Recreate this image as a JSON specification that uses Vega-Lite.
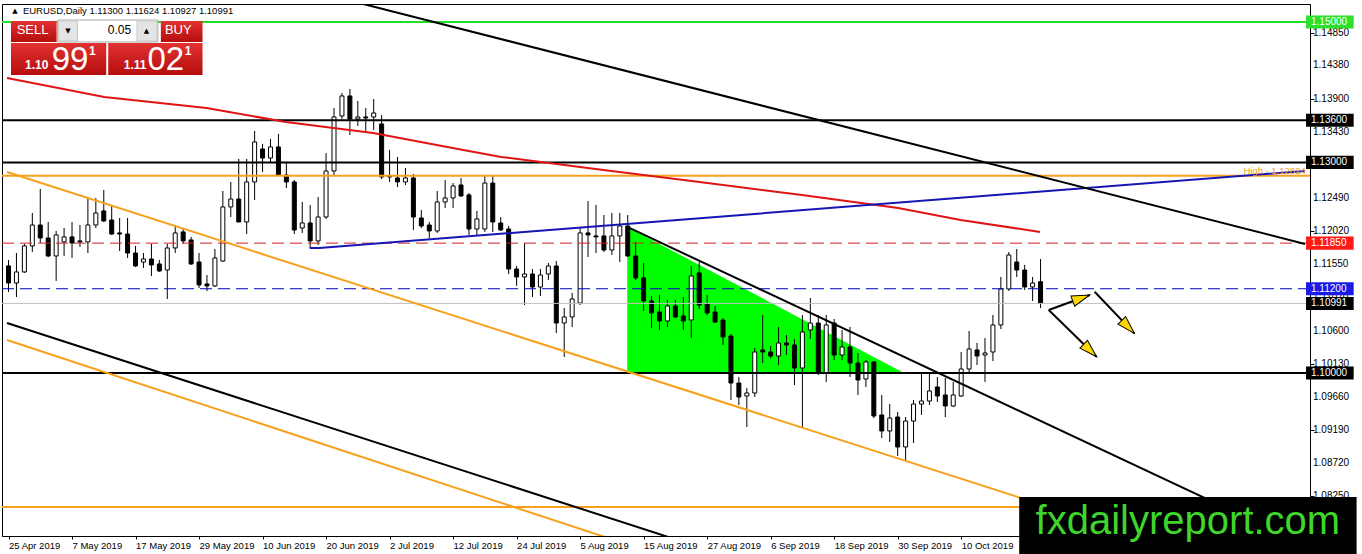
{
  "$schema": "https://vega.github.io/schema/vega-lite/v6.json",
  "description": "EURUSD daily candles, Apr-Oct 2019, with trend lines and levels",
  "width": 1308,
  "height": 532,
  "autosize": {"type": "none"},
  "padding": {"left": 2, "top": 4, "right": 52, "bottom": 18},
  "background": "white",
  "config": {
    "view": {"stroke": "black", "strokeWidth": 1},
    "axis": {"domainColor": "black", "tickColor": "black", "labelColor": "black", "labelFont": "Liberation Sans", "grid": false, "labelOverlap": false, "labelFlush": false, "labelBound": false},
    "text": {"font": "Liberation Sans"}
  },
  "datasets": {
    "candles": [
      {"i":0,"o":1.11525,"h":1.1161,"l":1.11154,"c":1.11282},
      {"i":1,"o":1.11282,"h":1.11709,"l":1.11082,"c":1.11439},
      {"i":2,"o":1.11439,"h":1.11838,"l":1.11425,"c":1.1181},
      {"i":3,"o":1.1181,"h":1.12279,"l":1.11724,"c":1.12108},
      {"i":4,"o":1.12108,"h":1.12621,"l":1.11852,"c":1.11923},
      {"i":5,"o":1.11923,"h":1.12151,"l":1.1165,"c":1.11667},
      {"i":6,"o":1.11667,"h":1.12023,"l":1.11311,"c":1.11966},
      {"i":7,"o":1.11867,"h":1.12065,"l":1.11667,"c":1.11938},
      {"i":8,"o":1.11938,"h":1.12151,"l":1.11638,"c":1.11852},
      {"i":9,"o":1.11881,"h":1.12108,"l":1.11795,"c":1.11867},
      {"i":10,"o":1.11867,"h":1.12478,"l":1.11709,"c":1.12108},
      {"i":11,"o":1.12108,"h":1.12493,"l":1.12065,"c":1.12279},
      {"i":12,"o":1.12308,"h":1.12607,"l":1.12151,"c":1.12165},
      {"i":13,"o":1.12179,"h":1.12393,"l":1.11966,"c":1.1198},
      {"i":14,"o":1.11995,"h":1.12208,"l":1.11738,"c":1.1198},
      {"i":15,"o":1.1198,"h":1.12208,"l":1.11638,"c":1.11709},
      {"i":16,"o":1.11709,"h":1.1181,"l":1.1151,"c":1.11525},
      {"i":17,"o":1.11581,"h":1.11709,"l":1.11496,"c":1.11624},
      {"i":18,"o":1.11624,"h":1.11838,"l":1.11382,"c":1.11539},
      {"i":19,"o":1.11553,"h":1.1161,"l":1.11439,"c":1.11453},
      {"i":20,"o":1.11467,"h":1.11838,"l":1.11054,"c":1.11781},
      {"i":21,"o":1.11781,"h":1.12108,"l":1.11709,"c":1.11995},
      {"i":22,"o":1.12009,"h":1.12051,"l":1.11838,"c":1.11881},
      {"i":23,"o":1.11895,"h":1.11938,"l":1.11539,"c":1.11553},
      {"i":24,"o":1.11581,"h":1.11709,"l":1.11211,"c":1.11254},
      {"i":25,"o":1.11268,"h":1.11396,"l":1.11168,"c":1.1124},
      {"i":26,"o":1.1124,"h":1.11766,"l":1.11225,"c":1.11638},
      {"i":27,"o":1.11595,"h":1.12592,"l":1.11581,"c":1.12365},
      {"i":28,"o":1.12365,"h":1.12721,"l":1.12222,"c":1.12478},
      {"i":29,"o":1.12478,"h":1.13048,"l":1.12151,"c":1.12151},
      {"i":30,"o":1.12151,"h":1.13048,"l":1.1198,"c":1.12721},
      {"i":31,"o":1.12721,"h":1.13447,"l":1.12464,"c":1.13291},
      {"i":32,"o":1.13191,"h":1.13262,"l":1.12863,"c":1.13062},
      {"i":33,"o":1.13062,"h":1.13333,"l":1.12991,"c":1.1322},
      {"i":34,"o":1.1322,"h":1.13405,"l":1.1282,"c":1.1282},
      {"i":35,"o":1.1282,"h":1.13006,"l":1.12635,"c":1.12721},
      {"i":36,"o":1.12721,"h":1.12749,"l":1.1198,"c":1.12037},
      {"i":37,"o":1.12065,"h":1.12436,"l":1.11995,"c":1.12137},
      {"i":38,"o":1.12137,"h":1.12393,"l":1.11781,"c":1.11881},
      {"i":39,"o":1.11881,"h":1.12507,"l":1.11824,"c":1.12222},
      {"i":40,"o":1.12222,"h":1.13134,"l":1.12194,"c":1.12877},
      {"i":41,"o":1.12877,"h":1.13775,"l":1.1282,"c":1.13647},
      {"i":42,"o":1.13661,"h":1.13988,"l":1.13618,"c":1.13946},
      {"i":43,"o":1.13946,"h":1.14046,"l":1.1339,"c":1.13618},
      {"i":44,"o":1.13618,"h":1.13875,"l":1.13519,"c":1.13647},
      {"i":45,"o":1.13647,"h":1.13775,"l":1.13433,"c":1.13632},
      {"i":46,"o":1.13647,"h":1.13903,"l":1.13462,"c":1.13704},
      {"i":47,"o":1.13547,"h":1.13675,"l":1.12763,"c":1.12792},
      {"i":48,"o":1.12806,"h":1.13177,"l":1.12721,"c":1.12792},
      {"i":49,"o":1.12778,"h":1.13077,"l":1.1265,"c":1.12721},
      {"i":50,"o":1.12721,"h":1.1292,"l":1.12678,"c":1.12778},
      {"i":51,"o":1.12778,"h":1.12835,"l":1.12037,"c":1.12222},
      {"i":52,"o":1.12208,"h":1.12322,"l":1.12065,"c":1.12094},
      {"i":53,"o":1.12108,"h":1.12151,"l":1.11923,"c":1.12023},
      {"i":54,"o":1.12023,"h":1.12592,"l":1.11995,"c":1.12436},
      {"i":55,"o":1.12436,"h":1.12749,"l":1.1235,"c":1.12493},
      {"i":56,"o":1.12493,"h":1.12706,"l":1.1235,"c":1.12664},
      {"i":57,"o":1.12678,"h":1.12778,"l":1.12507,"c":1.12522},
      {"i":58,"o":1.12536,"h":1.12564,"l":1.11966,"c":1.12051},
      {"i":59,"o":1.12051,"h":1.12308,"l":1.11966,"c":1.12194},
      {"i":60,"o":1.12051,"h":1.12806,"l":1.12009,"c":1.12706},
      {"i":61,"o":1.12706,"h":1.12806,"l":1.12009,"c":1.12151},
      {"i":62,"o":1.12137,"h":1.12222,"l":1.12023,"c":1.12037},
      {"i":63,"o":1.12051,"h":1.12094,"l":1.1141,"c":1.11481},
      {"i":64,"o":1.11481,"h":1.11524,"l":1.1124,"c":1.11368},
      {"i":65,"o":1.11368,"h":1.11852,"l":1.10968,"c":1.1141},
      {"i":66,"o":1.1141,"h":1.11481,"l":1.11082,"c":1.11225},
      {"i":67,"o":1.11225,"h":1.11481,"l":1.11097,"c":1.11396},
      {"i":68,"o":1.1141,"h":1.11567,"l":1.11325,"c":1.11524},
      {"i":69,"o":1.11524,"h":1.11595,"l":1.10569,"c":1.10712},
      {"i":70,"o":1.10712,"h":1.10926,"l":1.10228,"c":1.10798},
      {"i":71,"o":1.10798,"h":1.1114,"l":1.10655,"c":1.11054},
      {"i":72,"o":1.10997,"h":1.1208,"l":1.10968,"c":1.11995},
      {"i":73,"o":1.11995,"h":1.1245,"l":1.11653,"c":1.11966},
      {"i":74,"o":1.11952,"h":1.12393,"l":1.11709,"c":1.11938},
      {"i":75,"o":1.11952,"h":1.1225,"l":1.11724,"c":1.11752},
      {"i":76,"o":1.11752,"h":1.12279,"l":1.11681,"c":1.11952},
      {"i":77,"o":1.11952,"h":1.12279,"l":1.11581,"c":1.12094},
      {"i":78,"o":1.12094,"h":1.1225,"l":1.11653,"c":1.11667},
      {"i":79,"o":1.11667,"h":1.11867,"l":1.11325,"c":1.11354},
      {"i":80,"o":1.11354,"h":1.11567,"l":1.10883,"c":1.11026},
      {"i":81,"o":1.11026,"h":1.11097,"l":1.10641,"c":1.10855},
      {"i":82,"o":1.10869,"h":1.11111,"l":1.10612,"c":1.10741},
      {"i":83,"o":1.10741,"h":1.1104,"l":1.10655,"c":1.10954},
      {"i":84,"o":1.10954,"h":1.1104,"l":1.10783,"c":1.10798},
      {"i":85,"o":1.10812,"h":1.11082,"l":1.10612,"c":1.10741},
      {"i":86,"o":1.10755,"h":1.11524,"l":1.10498,"c":1.11382},
      {"i":87,"o":1.11425,"h":1.11581,"l":1.10911,"c":1.10968},
      {"i":88,"o":1.10983,"h":1.11111,"l":1.10826,"c":1.10855},
      {"i":89,"o":1.10869,"h":1.10954,"l":1.10712,"c":1.10726},
      {"i":90,"o":1.10755,"h":1.10783,"l":1.10399,"c":1.10513},
      {"i":91,"o":1.10527,"h":1.10555,"l":1.09615,"c":1.09857},
      {"i":92,"o":1.09857,"h":1.09943,"l":1.09544,"c":1.09658},
      {"i":93,"o":1.09672,"h":1.09786,"l":1.09231,"c":1.09715},
      {"i":94,"o":1.09715,"h":1.10356,"l":1.09658,"c":1.10299},
      {"i":95,"o":1.10328,"h":1.10826,"l":1.10142,"c":1.10299},
      {"i":96,"o":1.10299,"h":1.10385,"l":1.10213,"c":1.10242},
      {"i":97,"o":1.10242,"h":1.10655,"l":1.10114,"c":1.10427},
      {"i":98,"o":1.10427,"h":1.10541,"l":1.10256,"c":1.10399},
      {"i":99,"o":1.10399,"h":1.10484,"l":1.09829,"c":1.10071},
      {"i":100,"o":1.10071,"h":1.10826,"l":1.09216,"c":1.10584},
      {"i":101,"o":1.10612,"h":1.11068,"l":1.10484,"c":1.10712},
      {"i":102,"o":1.10712,"h":1.10826,"l":1.09971,"c":1.1},
      {"i":103,"o":1.1,"h":1.10826,"l":1.09872,"c":1.10684},
      {"i":104,"o":1.10712,"h":1.10769,"l":1.10185,"c":1.10256},
      {"i":105,"o":1.10256,"h":1.10612,"l":1.10185,"c":1.1037},
      {"i":106,"o":1.1037,"h":1.10655,"l":1.09943,"c":1.10142},
      {"i":107,"o":1.10142,"h":1.10285,"l":1.09687,"c":1.099},
      {"i":108,"o":1.09914,"h":1.10185,"l":1.09801,"c":1.10157},
      {"i":109,"o":1.10157,"h":1.10171,"l":1.09358,"c":1.09387},
      {"i":110,"o":1.09402,"h":1.09687,"l":1.09074,"c":1.09174},
      {"i":111,"o":1.09174,"h":1.09558,"l":1.09017,"c":1.09358},
      {"i":112,"o":1.09373,"h":1.09444,"l":1.08818,"c":1.08946},
      {"i":113,"o":1.08946,"h":1.09373,"l":1.0876,"c":1.09316},
      {"i":114,"o":1.09316,"h":1.09615,"l":1.09003,"c":1.09558},
      {"i":115,"o":1.09558,"h":1.10014,"l":1.09402,"c":1.09601},
      {"i":116,"o":1.09601,"h":1.1,"l":1.09544,"c":1.09744},
      {"i":117,"o":1.09801,"h":1.09943,"l":1.09587,"c":1.09672},
      {"i":118,"o":1.09687,"h":1.09929,"l":1.09373,"c":1.0953},
      {"i":119,"o":1.0953,"h":1.09872,"l":1.09516,"c":1.09687},
      {"i":120,"o":1.09672,"h":1.10299,"l":1.09658,"c":1.10057},
      {"i":121,"o":1.10057,"h":1.10598,"l":1.1,"c":1.10342},
      {"i":122,"o":1.10328,"h":1.10427,"l":1.10114,"c":1.10242},
      {"i":123,"o":1.10256,"h":1.10498,"l":1.09872,"c":1.10285},
      {"i":124,"o":1.10299,"h":1.10826,"l":1.10171,"c":1.10684},
      {"i":125,"o":1.10684,"h":1.11368,"l":1.10626,"c":1.11197},
      {"i":126,"o":1.11197,"h":1.11724,"l":1.11168,"c":1.11681},
      {"i":127,"o":1.11581,"h":1.11766,"l":1.11368,"c":1.11467},
      {"i":128,"o":1.11467,"h":1.11539,"l":1.11182,"c":1.11225},
      {"i":129,"o":1.11225,"h":1.11368,"l":1.11026,"c":1.11282},
      {"i":130,"o":1.113,"h":1.11624,"l":1.10927,"c":1.10991}
    ],
    "yticks": [
      {"p":1.0825,"label":"1.08250"},{"p":1.0872,"label":"1.08720"},{"p":1.0919,"label":"1.09190"},
      {"p":1.0966,"label":"1.09660"},{"p":1.1013,"label":"1.10130"},{"p":1.106,"label":"1.10600"},
      {"p":1.1107,"label":"1.11070"},{"p":1.1155,"label":"1.11550"},{"p":1.1202,"label":"1.12020"},
      {"p":1.1249,"label":"1.12490"},{"p":1.1296,"label":"1.12960"},{"p":1.1343,"label":"1.13430"},
      {"p":1.139,"label":"1.13900"},{"p":1.1438,"label":"1.14380"},{"p":1.1485,"label":"1.14850"}
    ],
    "levels": [
      {"id":"g150","p":1.15},
      {"id":"k136","p":1.136},
      {"id":"k130","p":1.13},
      {"id":"high","p":1.1281},
      {"id":"r1185","p":1.1185},
      {"id":"b112","p":1.112},
      {"id":"bid","p":1.10991},
      {"id":"k110","p":1.1},
      {"id":"o081","p":1.0809}
    ],
    "trends": [
      {"id":"ma","i":-0.19,"p":1.14202},{"id":"ma","i":12.06,"p":1.13931},{"id":"ma","i":24.94,"p":1.13775},
      {"id":"ma","i":34.94,"p":1.13575},{"id":"ma","i":45.94,"p":1.13418},{"id":"ma","i":55.94,"p":1.13205},
      {"id":"ma","i":62.06,"p":1.13077},{"id":"ma","i":74.94,"p":1.12892},{"id":"ma","i":87.06,"p":1.12721},
      {"id":"ma","i":99.94,"p":1.12535},{"id":"ma","i":112.06,"p":1.1235},{"id":"ma","i":119.94,"p":1.12179},
      {"id":"ma","i":129.94,"p":1.12009},
      {"id":"blue","i":37.94,"p":1.11781},{"id":"blue","i":39.15,"p":1.11781},{"id":"blue","i":163.31,"p":1.12878},
      {"id":"top","i":44.19,"p":1.1527},{"id":"top","i":163.31,"p":1.11838},
      {"id":"tri","i":77.94,"p":1.1208},{"id":"tri","i":163.31,"p":1.07549},
      {"id":"low","i":-0.19,"p":1.10712},{"id":"low","i":163.31,"p":1.04729},
      {"id":"orUp","i":-0.19,"p":1.12863},{"id":"orUp","i":163.31,"p":1.06918},
      {"id":"orLow","i":-0.19,"p":1.1047},{"id":"orLow","i":163.31,"p":1.04377}
    ],
    "tri": [
      {"i":77.94,"p":1.1208,"p2":1.1},
      {"i":112.8,"p":1.1,"p2":1.1}
    ],
    "arrows": [
      {"id":"a1","i":131.03,"p":1.10897,"end":false},{"id":"a1","i":136.19,"p":1.11111,"end":true},
      {"id":"a2","i":136.81,"p":1.11158,"end":false},{"id":"a2","i":141.81,"p":1.10565,"end":true},
      {"id":"a3","i":131.03,"p":1.10897,"end":false},{"id":"a3","i":137.06,"p":1.10232,"end":true}
    ],
    "rects": [
      {"id":"sell","i":0.31,"i2":6.06,"p":1.15014,"p2":1.14715},
      {"id":"buy","i":19.19,"i2":24.44,"p":1.15014,"p2":1.14715},
      {"id":"sellPx","i":0.31,"i2":12.31,"p":1.147,"p2":1.14245},
      {"id":"buyPx","i":12.56,"i2":24.44,"p":1.147,"p2":1.14245},
      {"id":"lot","i":6.19,"i2":18.81,"p":1.15028,"p2":1.14715},
      {"id":"lotDn","i":6.31,"i2":8.69,"p":1.15014,"p2":1.14729},
      {"id":"lotUp","i":16.19,"i2":18.69,"p":1.15014,"p2":1.14729},
      {"id":"wm","i":127.31,"i2":169.81,"p":1.08233,"p2":1.07421}
    ],
    "tags": [
      {"id":"g150","label":"1.15000","i":163.44,"i2":169.44,"p":1.15,"lo":1.14907,"hi":1.15093},
      {"id":"k136","label":"1.13600","i":163.44,"i2":169.44,"p":1.136,"lo":1.13507,"hi":1.13693},
      {"id":"k130","label":"1.13000","i":163.44,"i2":169.44,"p":1.13,"lo":1.12907,"hi":1.13093},
      {"id":"r1185","label":"1.11850","i":163.44,"i2":169.44,"p":1.1185,"lo":1.11757,"hi":1.11943},
      {"id":"b112","label":"1.11200","i":163.44,"i2":169.44,"p":1.112,"lo":1.11107,"hi":1.11293},
      {"id":"bid","label":"1.10991","i":163.44,"i2":169.44,"p":1.10991,"lo":1.10898,"hi":1.11084},
      {"id":"k110","label":"1.10000","i":163.44,"i2":169.44,"p":1.1,"lo":1.09907,"hi":1.10093}
    ],
    "texts": [
      {"id":"hdrTri","i":0.81,"p":1.15156,"text":"▲"},
      {"id":"hdr","i":1.81,"p":1.15156,"text":"EURUSD,Daily  1.11300 1.11624 1.10927 1.10991"},
      {"id":"sellLbl","i":3.03,"p":1.14879,"text":"SELL"},
      {"id":"buyLbl","i":21.38,"p":1.14879,"text":"BUY"},
      {"id":"lot","i":15.44,"p":1.14879,"text":"0.05"},
      {"id":"dn","i":7.5,"p":1.14871,"text":"▼"},
      {"id":"up","i":17.38,"p":1.14871,"text":"▲"},
      {"id":"sellPre","i":3.56,"p":1.14323,"text":"1.10"},
      {"id":"buyPre","i":15.94,"p":1.14323,"text":"1.11"},
      {"id":"sellBig","i":7.75,"p":1.14316,"text":"99"},
      {"id":"buyBig","i":19.81,"p":1.14316,"text":"02"},
      {"id":"sellSup","i":10.56,"p":1.14528,"text":"1"},
      {"id":"buySup","i":22.63,"p":1.14528,"text":"1"},
      {"id":"high","i":163.4,"p":1.12877,"text":"High - 1.12824"},
      {"id":"wm","i":148.56,"p":1.07706,"text":"fxdailyreport.com"}
    ]
  },
  "layer": [
    {
      "data": {"name": "tri"},
      "mark": {"type": "area", "color": "#00ff00", "opacity": 1},
      "encoding": {
        "x": {"field": "i", "type": "quantitative"},
        "y": {"field": "p", "type": "quantitative"},
        "y2": {"field": "p2"}
      }
    },
    {
      "data": {"name": "candles"},
      "mark": {"type": "rule", "color": "black", "strokeWidth": 1},
      "encoding": {
        "x": {
          "field": "i", "type": "quantitative",
          "scale": {"domain": [-0.19, 163.31], "nice": false, "zero": false},
          "axis": {
            "title": null, "values": [0, 8, 16, 24, 32, 40, 48, 56, 64, 72, 80, 88, 96, 104, 112, 120, 128],
            "labelExpr": "['25 Apr 2019','7 May 2019','17 May 2019','29 May 2019','10 Jun 2019','20 Jun 2019','2 Jul 2019','12 Jul 2019','24 Jul 2019','5 Aug 2019','15 Aug 2019','27 Aug 2019','6 Sep 2019','18 Sep 2019','30 Sep 2019','10 Oct 2019','22 Oct 2019'][round(datum.value / 8)]",
            "labelAlign": "left", "labelBaseline": "top", "labelPadding": 1, "tickSize": 3,
            "labelFontSize": 9.5
          }
        },
        "y": {
          "field": "l", "type": "quantitative",
          "scale": {"domain": [1.07678, 1.15256], "nice": false, "zero": false},
          "axis": {
            "title": null, "orient": "right", "labels": false,
            "values": [1.0825, 1.0872, 1.0919, 1.0966, 1.1013, 1.106, 1.1107, 1.1155, 1.1202, 1.1249, 1.1296, 1.1343, 1.139, 1.1438, 1.1485],
            "tickSize": 4
          }
        },
        "y2": {"field": "h"}
      }
    },
    {
      "data": {"name": "candles"},
      "mark": {"type": "bar", "size": 4, "stroke": "black", "strokeWidth": 1},
      "encoding": {
        "x": {"field": "i", "type": "quantitative"},
        "y": {"field": "o", "type": "quantitative"},
        "y2": {"field": "c"},
        "fill": {"condition": {"test": "datum.c >= datum.o", "value": "white"}, "value": "black"}
      }
    },
    {
      "data": {"name": "levels"},
      "transform": [{"filter": {"field": "id", "oneOf": ["g150", "k136", "k130", "high", "k110", "o081"]}}],
      "mark": {"type": "rule", "strokeWidth": 2},
      "encoding": {
        "y": {"field": "p", "type": "quantitative"},
        "color": {
          "field": "id", "type": "nominal", "legend": null,
          "scale": {
            "domain": ["g150", "k136", "k130", "high", "r1185", "b112", "bid", "k110", "o081", "ma", "blue", "top", "tri", "low", "orUp", "orLow"],
            "range": ["#22dd22", "#000000", "#000000", "#f7a01c", "#d42020", "#0000c0", "#c0c0c0", "#000000", "#f7a01c", "#e01414", "#1616b4", "#000000", "#000000", "#000000", "#f7a01c", "#f7a01c"]
          }
        }
      }
    },
    {
      "data": {"name": "levels"},
      "transform": [{"filter": {"field": "id", "oneOf": ["r1185", "b112"]}}],
      "mark": {"type": "rule", "strokeWidth": 1, "strokeDash": [12, 6]},
      "encoding": {
        "y": {"field": "p", "type": "quantitative"},
        "color": {"field": "id", "type": "nominal", "legend": null}
      }
    },
    {
      "data": {"name": "levels"},
      "transform": [{"filter": {"field": "id", "oneOf": ["bid"]}}],
      "mark": {"type": "rule", "strokeWidth": 1},
      "encoding": {
        "y": {"field": "p", "type": "quantitative"},
        "color": {"field": "id", "type": "nominal", "legend": null}
      }
    },
    {
      "data": {"name": "trends"},
      "mark": {"type": "line", "strokeWidth": 2, "clip": true},
      "encoding": {
        "x": {"field": "i", "type": "quantitative"},
        "y": {"field": "p", "type": "quantitative"},
        "color": {"field": "id", "type": "nominal", "legend": null}
      }
    },
    {
      "data": {"name": "texts"},
      "transform": [{"filter": {"field": "id", "oneOf": ["high"]}}],
      "mark": {"type": "text", "align": "right", "baseline": "middle", "fontSize": 9.5, "color": "#f0a020"},
      "encoding": {
        "x": {"field": "i", "type": "quantitative"},
        "y": {"field": "p", "type": "quantitative"},
        "text": {"field": "text"}
      }
    },
    {
      "data": {"name": "arrows"},
      "mark": {"type": "line", "color": "black", "strokeWidth": 2},
      "encoding": {
        "x": {"field": "i", "type": "quantitative"},
        "y": {"field": "p", "type": "quantitative"},
        "detail": {"field": "id"}
      }
    },
    {
      "data": {"name": "arrows"},
      "transform": [{"filter": "datum.id == 'a1' && datum.end"}],
      "mark": {"type": "point", "shape": "M -2 -0.6 L 0 0 L -2 0.6 Z", "size": 324, "angle": 340, "filled": true, "fill": "#ffd700", "stroke": "black", "strokeWidth": 1, "opacity": 1},
      "encoding": {
        "x": {"field": "i", "type": "quantitative"},
        "y": {"field": "p", "type": "quantitative"}
      }
    },
    {
      "data": {"name": "arrows"},
      "transform": [{"filter": "datum.id == 'a2' && datum.end"}],
      "mark": {"type": "point", "shape": "M -2 -0.6 L 0 0 L -2 0.6 Z", "size": 324, "angle": 46, "filled": true, "fill": "#ffd700", "stroke": "black", "strokeWidth": 1, "opacity": 1},
      "encoding": {
        "x": {"field": "i", "type": "quantitative"},
        "y": {"field": "p", "type": "quantitative"}
      }
    },
    {
      "data": {"name": "arrows"},
      "transform": [{"filter": "datum.id == 'a3' && datum.end"}],
      "mark": {"type": "point", "shape": "M -2 -0.6 L 0 0 L -2 0.6 Z", "size": 324, "angle": 44, "filled": true, "fill": "#ffd700", "stroke": "black", "strokeWidth": 1, "opacity": 1},
      "encoding": {
        "x": {"field": "i", "type": "quantitative"},
        "y": {"field": "p", "type": "quantitative"}
      }
    },
    {
      "data": {"name": "rects"},
      "transform": [{"filter": {"field": "id", "oneOf": ["sell", "buy", "sellPx", "buyPx"]}}],
      "mark": {
        "type": "rect",
        "fill": {"gradient": "linear", "x1": 0, "y1": 0, "x2": 0, "y2": 1, "stops": [{"offset": 0, "color": "#e23232"}, {"offset": 1, "color": "#b50d0d"}]}
      },
      "encoding": {
        "x": {"field": "i", "type": "quantitative"},
        "x2": {"field": "i2"},
        "y": {"field": "p", "type": "quantitative"},
        "y2": {"field": "p2"}
      }
    },
    {
      "data": {"name": "rects"},
      "transform": [{"filter": {"field": "id", "oneOf": ["lot"]}}],
      "mark": {"type": "rect", "fill": "white", "stroke": "#a8a8a8", "strokeWidth": 1},
      "encoding": {
        "x": {"field": "i", "type": "quantitative"},
        "x2": {"field": "i2"},
        "y": {"field": "p", "type": "quantitative"},
        "y2": {"field": "p2"}
      }
    },
    {
      "data": {"name": "rects"},
      "transform": [{"filter": {"field": "id", "oneOf": ["lotDn", "lotUp"]}}],
      "mark": {"type": "rect", "fill": "#e4e4e4", "stroke": "#c8c8c8", "strokeWidth": 1},
      "encoding": {
        "x": {"field": "i", "type": "quantitative"},
        "x2": {"field": "i2"},
        "y": {"field": "p", "type": "quantitative"},
        "y2": {"field": "p2"}
      }
    },
    {
      "data": {"name": "texts"},
      "transform": [{"filter": {"field": "id", "oneOf": ["sellLbl", "buyLbl"]}}],
      "mark": {"type": "text", "align": "center", "baseline": "middle", "fontSize": 13, "color": "white"},
      "encoding": {
        "x": {"field": "i", "type": "quantitative"},
        "y": {"field": "p", "type": "quantitative"},
        "text": {"field": "text"}
      }
    },
    {
      "data": {"name": "texts"},
      "transform": [{"filter": {"field": "id", "oneOf": ["sellPre", "buyPre", "sellSup", "buySup"]}}],
      "mark": {"type": "text", "align": "center", "baseline": "alphabetic", "fontSize": 12, "fontWeight": "bold", "color": "white"},
      "encoding": {
        "x": {"field": "i", "type": "quantitative"},
        "y": {"field": "p", "type": "quantitative"},
        "text": {"field": "text"}
      }
    },
    {
      "data": {"name": "texts"},
      "transform": [{"filter": {"field": "id", "oneOf": ["sellBig", "buyBig"]}}],
      "mark": {"type": "text", "align": "center", "baseline": "alphabetic", "fontSize": 33, "color": "white"},
      "encoding": {
        "x": {"field": "i", "type": "quantitative"},
        "y": {"field": "p", "type": "quantitative"},
        "text": {"field": "text"}
      }
    },
    {
      "data": {"name": "texts"},
      "transform": [{"filter": {"field": "id", "oneOf": ["lot"]}}],
      "mark": {"type": "text", "align": "right", "baseline": "middle", "fontSize": 12, "color": "black"},
      "encoding": {
        "x": {"field": "i", "type": "quantitative"},
        "y": {"field": "p", "type": "quantitative"},
        "text": {"field": "text"}
      }
    },
    {
      "data": {"name": "texts"},
      "transform": [{"filter": {"field": "id", "oneOf": ["dn", "up", "hdrTri"]}}],
      "mark": {"type": "text", "align": "center", "baseline": "middle", "fontSize": 7, "font": "DejaVu Sans", "color": "black"},
      "encoding": {
        "x": {"field": "i", "type": "quantitative"},
        "y": {"field": "p", "type": "quantitative"},
        "text": {"field": "text"}
      }
    },
    {
      "data": {"name": "texts"},
      "transform": [{"filter": {"field": "id", "oneOf": ["hdr"]}}],
      "mark": {"type": "text", "align": "left", "baseline": "middle", "fontSize": 9.5, "color": "black"},
      "encoding": {
        "x": {"field": "i", "type": "quantitative"},
        "y": {"field": "p", "type": "quantitative"},
        "text": {"field": "text"}
      }
    },
    {
      "data": {"name": "yticks"},
      "mark": {"type": "text", "align": "left", "baseline": "middle", "dx": 8, "fontSize": 10, "color": "black"},
      "encoding": {
        "x": {"datum": 163.31, "type": "quantitative"},
        "y": {"field": "p", "type": "quantitative"},
        "text": {"field": "label"}
      }
    },
    {
      "data": {"name": "tags"},
      "mark": {"type": "rect"},
      "encoding": {
        "x": {"field": "i", "type": "quantitative"},
        "x2": {"field": "i2"},
        "y": {"field": "lo", "type": "quantitative"},
        "y2": {"field": "hi"},
        "fill": {
          "field": "id", "type": "nominal", "legend": null,
          "scale": {
            "domain": ["g150", "k136", "k130", "r1185", "b112", "bid", "k110"],
            "range": ["#2ee02e", "#000000", "#000000", "#ff1a1a", "#1a1ae6", "#000000", "#000000"]
          }
        }
      }
    },
    {
      "data": {"name": "tags"},
      "mark": {"type": "text", "align": "left", "baseline": "middle", "dx": 5, "fontSize": 10, "color": "white"},
      "encoding": {
        "x": {"field": "i", "type": "quantitative"},
        "y": {"field": "p", "type": "quantitative"},
        "text": {"field": "label"}
      }
    },
    {
      "data": {"name": "rects"},
      "transform": [{"filter": {"field": "id", "oneOf": ["wm"]}}],
      "mark": {"type": "rect", "fill": "black"},
      "encoding": {
        "x": {"field": "i", "type": "quantitative"},
        "x2": {"field": "i2"},
        "y": {"field": "p", "type": "quantitative"},
        "y2": {"field": "p2"}
      }
    },
    {
      "data": {"name": "texts"},
      "transform": [{"filter": {"field": "id", "oneOf": ["wm"]}}],
      "mark": {"type": "text", "align": "center", "baseline": "alphabetic", "fontSize": 40, "color": "#3fd52b"},
      "encoding": {
        "x": {"field": "i", "type": "quantitative"},
        "y": {"field": "p", "type": "quantitative"},
        "text": {"field": "text"}
      }
    }
  ]
}
